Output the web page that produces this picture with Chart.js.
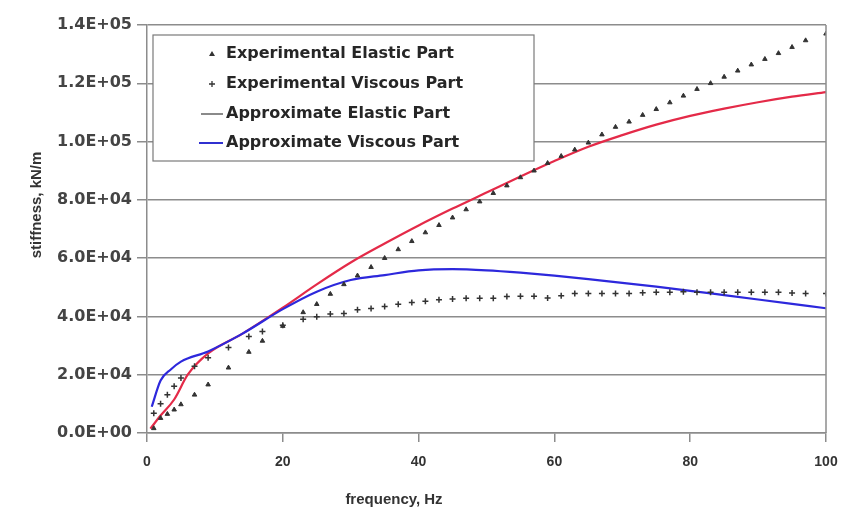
<!DOCTYPE html>
<html>
<head>
<meta charset="utf-8">
<script src="https://cdn.jsdelivr.net/npm/chart.js@4.4.1/dist/chart.umd.min.js"></script>
<style>
html,body{margin:0;padding:0;background:#fff;}
#wrap{width:843px;height:516px;}
</style>
</head>
<body>
<div id="wrap"><canvas id="c" width="843" height="516"></canvas></div>
<script>
// ---- data ----
const expFreq = [1,2,3,4,5,7,9,12,15,17,20,23,25,27,29,31,33,35,37,39,41,43,45,47,49,51,53,55,57,59,61,63,65,67,69,71,73,75,77,79,81,83,85,87,89,91,93,95,97,100];
const expElastic = [1600,5100,6500,8000,9800,13100,16600,22400,27800,31600,36700,41400,44200,47700,51000,54000,56900,60000,63000,65800,68800,71300,73900,76700,79400,82300,84900,87700,90000,92600,95000,97200,99600,102400,105000,106800,109100,111100,113400,115700,118000,120000,122200,124300,126400,128300,130300,132400,134700,137000];
const expViscous = [6800,10000,13100,16000,18900,22900,25800,29300,33100,34800,37000,39000,39900,40800,41000,42300,42700,43400,44200,44800,45200,45700,46000,46200,46200,46200,46800,46900,46900,46300,47100,47900,47900,47900,47900,47900,48100,48300,48300,48500,48300,48300,48300,48300,48300,48300,48300,48000,47900,47900];

const approxElasticFreq = [0.5,2,4,6,9,14,20,25,30,35,40,45,50,55,60,65,70,75,80,85,90,95,100];
const approxElastic = [1500,6000,11500,20000,27300,34000,43000,51000,58500,65000,71200,77000,82500,88000,93300,98200,102200,105800,108800,111300,113500,115400,117000];

const approxViscousFreq = [0.7,2,3.5,5,9,14,20,25,30,35,40,45,50,55,60,65,70,75,80,85,90,95,100];
const approxViscous = [9000,18000,21800,24500,28000,34000,42500,48500,52500,54200,55800,56200,55800,55000,54000,52800,51500,50200,48800,47300,45800,44300,42800];

const seriesNames = ["Experimental Elastic Part","Experimental Viscous Part","Approximate Elastic Part","Approximate Viscous Part"];
const xTicks = [0,20,40,60,80,100];
const yTicks = [0,20000,40000,60000,80000,100000,120000,140000];
const xTitle = "frequency, Hz";
const yTitle = "stiffness, kN/m";

function sci(v){
  if (v === 0) return "0.0E+00";
  const e = Math.floor(Math.log10(Math.abs(v)));
  const m = v / Math.pow(10, e);
  return m.toFixed(1) + "E" + (e >= 0 ? "+" : "-") + String(Math.abs(e)).padStart(2, "0");
}
const pts = (xs, ys) => xs.map((x, i) => ({x: x, y: ys[i]}));

const legendPlugin = {
  id: 'customLegend',
  beforeDraw(chart){
    const ctx = chart.ctx;
    ctx.save();
    ctx.fillStyle = '#ffffff';
    ctx.fillRect(0, 0, chart.width, chart.height);
    ctx.restore();
  },
  afterDraw(chart){
    const ctx = chart.ctx;
    const a = chart.chartArea;
    ctx.save();
    // right frame line
    ctx.strokeStyle = '#8c8c8c';
    ctx.lineWidth = 1.5;
    ctx.beginPath();
    ctx.moveTo(a.right, a.top);
    ctx.lineTo(a.right, a.bottom);
    ctx.stroke();

    // legend box
    const bx = a.left + 6, by = a.top + 10, bw = 381, bh = 126;
    ctx.fillStyle = '#ffffff';
    ctx.fillRect(bx, by, bw, bh);
    ctx.strokeStyle = '#7a7a7a';
    ctx.lineWidth = 1.2;
    ctx.strokeRect(bx, by, bw, bh);

    ctx.font = 'bold 16px "DejaVu Sans"';
    ctx.textBaseline = 'middle';
    const tx = bx + 73;
    const rows = [by + 19, by + 49, by + 79, by + 108];
    // markers
    const mx = bx + 59;
    ctx.fillStyle = '#333';
    ctx.beginPath();
    ctx.moveTo(mx, rows[0] - 3); ctx.lineTo(mx + 3, rows[0] + 2); ctx.lineTo(mx - 3, rows[0] + 2); ctx.closePath();
    ctx.fill();
    ctx.strokeStyle = '#333';
    ctx.lineWidth = 1.3;
    ctx.beginPath();
    ctx.moveTo(mx - 3, rows[1]); ctx.lineTo(mx + 3, rows[1]);
    ctx.moveTo(mx, rows[1] - 3); ctx.lineTo(mx, rows[1] + 3);
    ctx.stroke();
    ctx.lineWidth = 2;
    ctx.strokeStyle = '#8a8a8a';
    ctx.beginPath(); ctx.moveTo(bx + 48, rows[2]); ctx.lineTo(bx + 70, rows[2]); ctx.stroke();
    ctx.strokeStyle = '#3030d0';
    ctx.beginPath(); ctx.moveTo(bx + 46, rows[3]); ctx.lineTo(bx + 70, rows[3]); ctx.stroke();

    ctx.fillStyle = '#262626';
    seriesNames.forEach((n, i) => ctx.fillText(n, tx, rows[i]));

    // axis titles
    ctx.font = 'bold 15px "Liberation Sans", Arial';
    ctx.fillStyle = '#333';
    ctx.textAlign = 'center';
    ctx.fillText(xTitle, 394, 500);
    ctx.translate(37, 205);
    ctx.rotate(-Math.PI / 2);
    ctx.fillText(yTitle, 0, 0);
    ctx.restore();
  }
};

new Chart(document.getElementById('c'), {
  type: 'scatter',
  data: {
    datasets: [
      {label: seriesNames[0], data: pts(expFreq, expElastic), pointStyle: 'triangle', pointRadius: 2.6,
       backgroundColor: '#333', borderColor: '#333', borderWidth: 1, showLine: false, order: 1},
      {label: seriesNames[1], data: pts(expFreq, expViscous), pointStyle: 'cross', pointRadius: 3,
       backgroundColor: '#333', borderColor: '#333', borderWidth: 1.5, showLine: false, order: 1},
      {label: seriesNames[2], data: pts(approxElasticFreq, approxElastic), showLine: true, pointRadius: 0,
       borderColor: 'rgb(228,42,72)', borderWidth: 2.2, cubicInterpolationMode: 'monotone', order: 3},
      {label: seriesNames[3], data: pts(approxViscousFreq, approxViscous), showLine: true, pointRadius: 0,
       borderColor: 'rgb(45,40,220)', borderWidth: 2.2, cubicInterpolationMode: 'monotone', order: 2}
    ]
  },
  options: {
    responsive: false,
    animation: false,
    events: [],
    layout: {padding: {top: 25, right: 17, left: 0, bottom: 0}},
    plugins: {legend: {display: false}, tooltip: {enabled: false}},
    scales: {
      x: {
        type: 'linear', min: 0, max: 100,
        afterBuildTicks: s => { s.ticks = xTicks.map(v => ({value: v})); },
        afterFit: s => { s.height = 83; s.paddingRight = 0; s.paddingLeft = 0; },
        ticks: {color: '#333', font: {family: '"Liberation Sans", Arial', size: 14, weight: 'bold'}, padding: 12,
                callback: v => String(v)},
        grid: {drawOnChartArea: false, drawTicks: true, tickLength: 9, color: '#8c8c8c', lineWidth: 1.5},
        border: {color: '#8c8c8c', width: 1.5}
      },
      y: {
        type: 'linear', min: 0, max: 140000,
        afterBuildTicks: s => { s.ticks = yTicks.map(v => ({value: v})); },
        afterFit: s => { s.width = 147; s.paddingTop = 0; s.paddingBottom = 0; },
        ticks: {color: '#444', font: {family: '"DejaVu Sans"', size: 16, weight: 'bold'}, padding: 5,
                callback: v => sci(v)},
        grid: {color: '#8c8c8c', lineWidth: 1.5, tickLength: 10},
        border: {color: '#8c8c8c', width: 1.5}
      }
    }
  },
  plugins: [legendPlugin]
});
</script>
</body>
</html>
